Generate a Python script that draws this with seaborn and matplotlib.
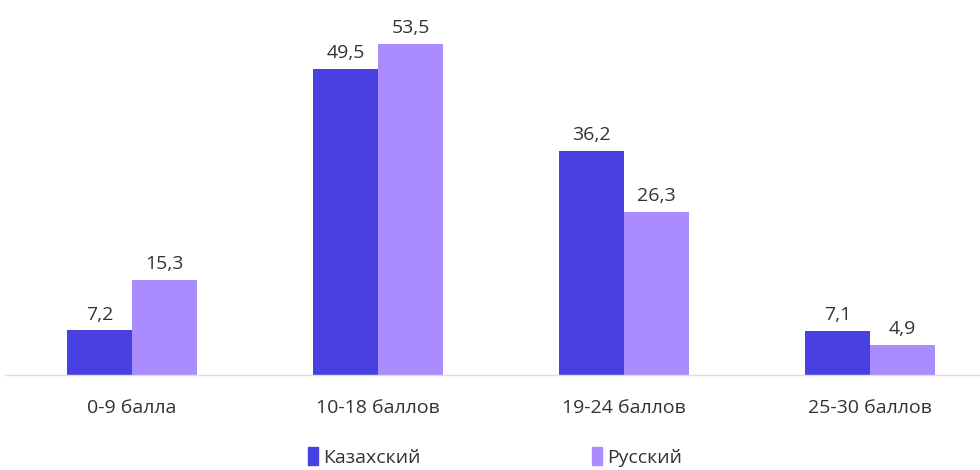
import pandas as pd
import matplotlib.pyplot as plt
import seaborn as sns

# Data
categories = ["0-9 балла", "10-18 баллов", "19-24 баллов", "25-30 баллов"]
kazakh = [7.2, 49.5, 36.2, 7.1]
russian = [15.3, 53.5, 26.3, 4.9]
series_names = ["Казахский", "Русский"]
colors = ["#4840E0", "#AA8CFF"]

df = pd.DataFrame({
    "category": categories * 2,
    "value": kazakh + russian,
    "lang": [series_names[0]] * 4 + [series_names[1]] * 4,
})

sns.set_style("white")
plt.rcParams['font.family'] = ['Open Sans', 'DejaVu Sans']

fig = plt.figure(figsize=(9.8, 4.7), dpi=100)
ax = fig.add_axes([5 / 980, 95 / 470, 975 / 980, 365 / 470])

sns.barplot(data=df, x="category", y="value", hue="lang", palette=colors,
            width=0.53, saturation=1, linewidth=0, ax=ax, legend=False)

for cont in ax.containers:
    ax.bar_label(cont, labels=[f"{b.get_height():.1f}".replace(".", ",") for b in cont],
                 padding=5, fontsize=14, color="#333333")

ax.set_xlim(-0.516, 3.447)
ax.set_ylim(0, 59)
ax.set_xlabel("")
ax.set_ylabel("")
ax.set_yticks([])
ax.tick_params(axis="x", length=0, pad=17, labelsize=14, labelcolor="#333333")
for side in ["top", "right", "left"]:
    ax.spines[side].set_visible(False)
ax.spines["bottom"].set_color("#dddddd")
ax.spines["bottom"].set_linewidth(1)

handles = [plt.Rectangle((0, 0), 1, 1, color=c) for c in colors]
fig.legend(handles, series_names, loc="center", bbox_to_anchor=(0.505, 0.028),
           ncol=2, frameon=False, fontsize=14, handlelength=0.55, handleheight=1.0,
           handletextpad=0.25, columnspacing=8.8, labelcolor="#333333")

fig.savefig("out.png", dpi=100)
